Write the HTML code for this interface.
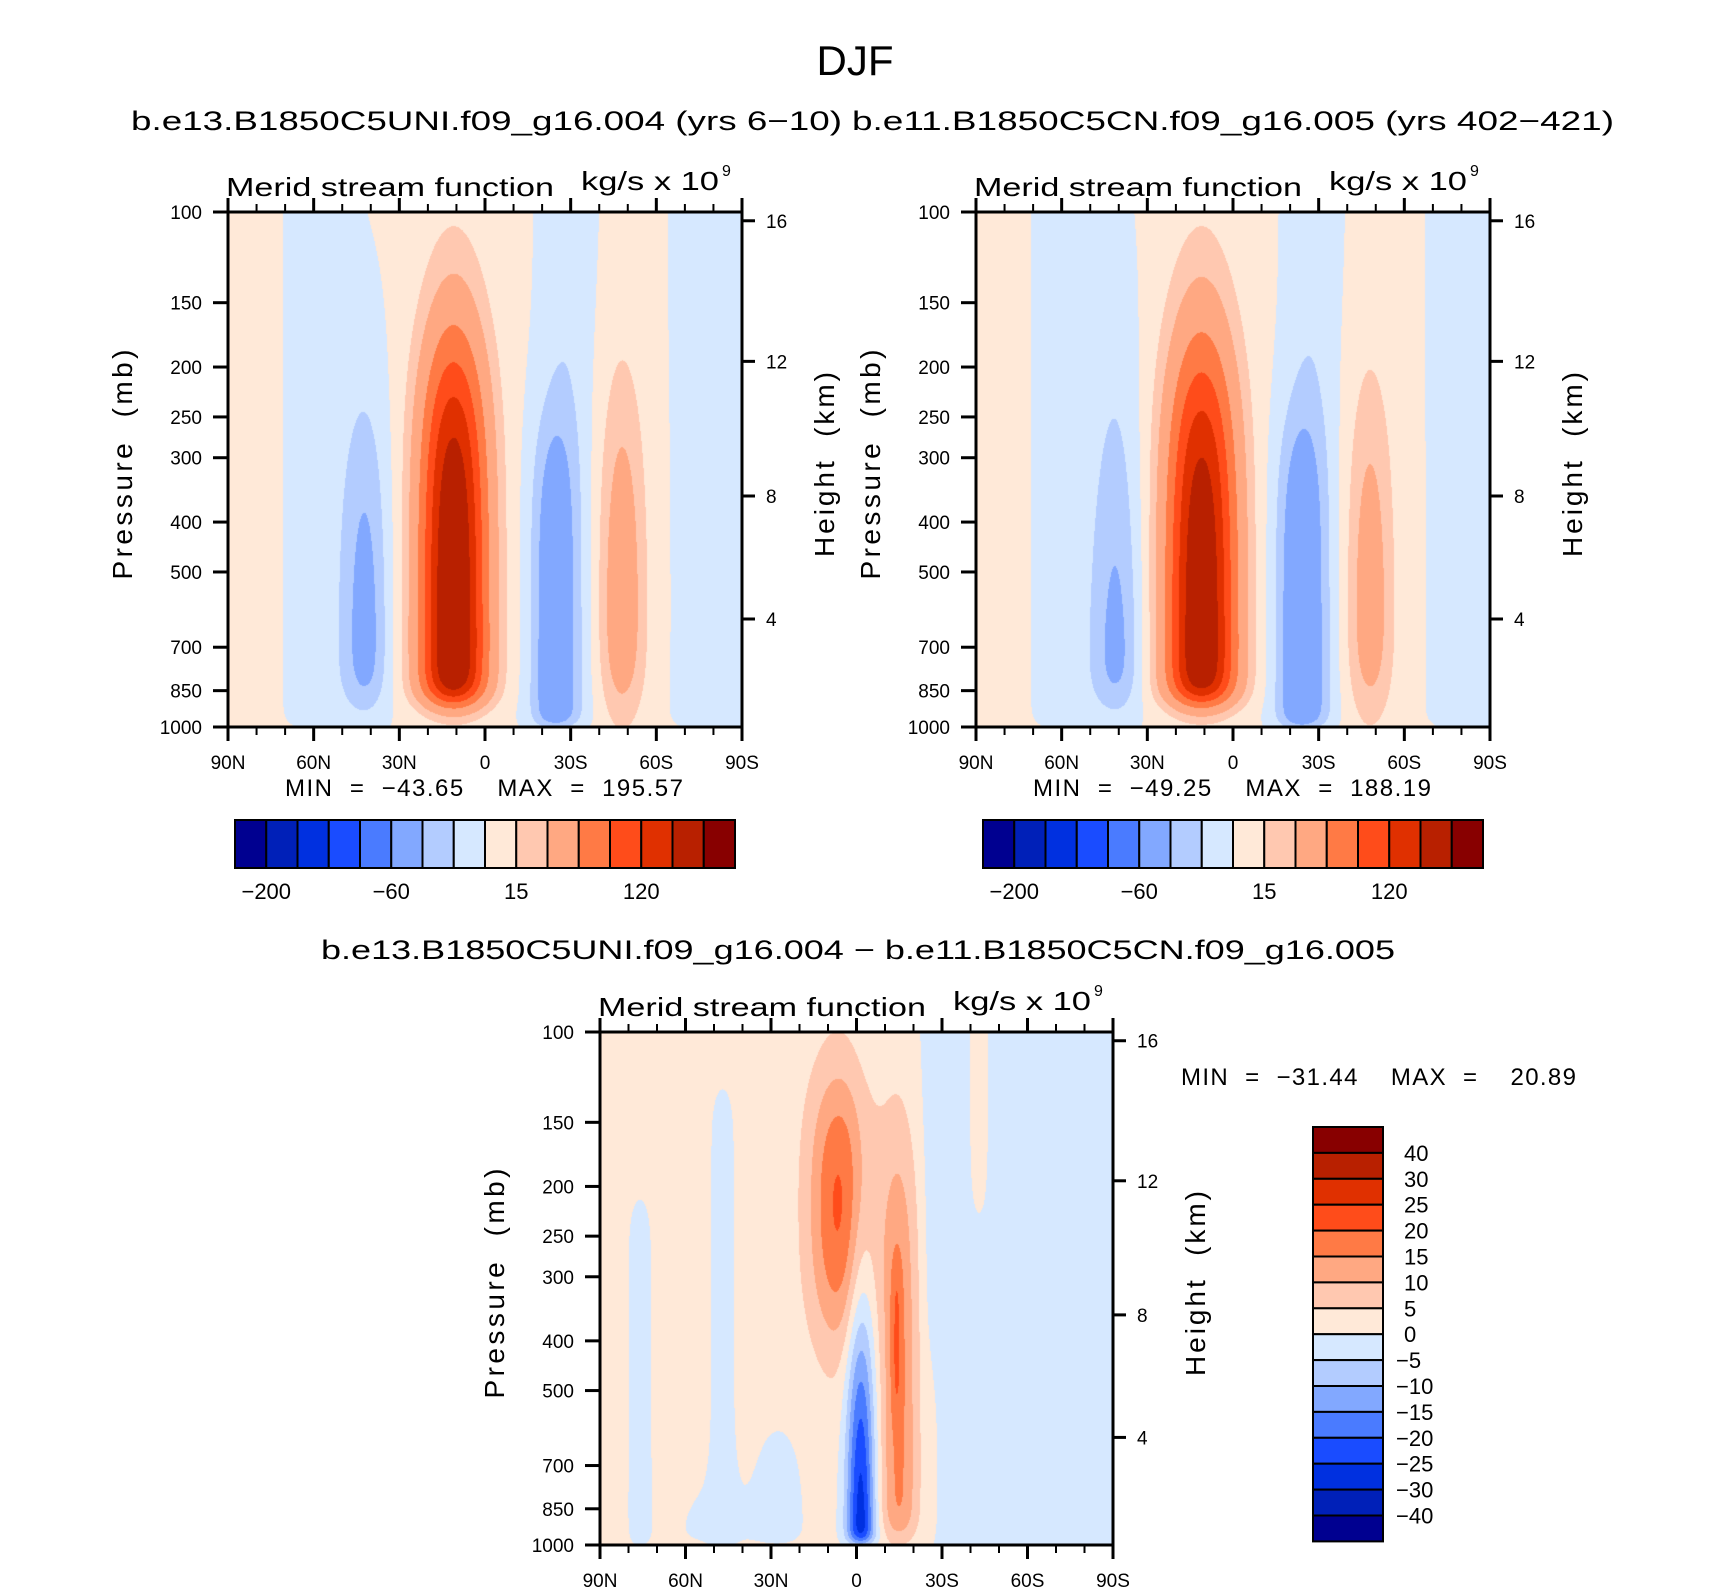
<!DOCTYPE html>
<html><head><meta charset="utf-8">
<style>
html,body{margin:0;padding:0;background:#fff;}
#wrap{position:relative;width:1710px;height:1591px;overflow:hidden;}
canvas{position:absolute;}
svg{position:absolute;left:0;top:0;}
text{font-family:"Liberation Sans",sans-serif;fill:#000;white-space:pre;}
</style></head>
<body>
<div id="wrap">
<canvas id="c1"></canvas>
<canvas id="c2"></canvas>
<canvas id="c3"></canvas>
<svg id="s" width="1710" height="1591"></svg>
</div>
<script>
// ---------- data ----------
const latTicks = [90,60,30,0,-30,-60,-90];
const latTickLabels = ["90N","60N","30N","0","30S","60S","90S"];
const presTicks = [100,150,200,250,300,400,500,700,850,1000];
const heightTickLabels = ["16","12","8","4"];
const heightTickPres = [104,195,356,617];

const levelsAbs = [-200,-150,-120,-90,-60,-30,-15,0,15,30,60,90,120,150,200];
const levelsDiff = [-40,-30,-25,-20,-15,-10,-5,0,5,10,15,20,25,30,40];
const palette = ["#000090","#0020b8","#0030e0","#1a4cff","#4a7bff","#82a8ff","#b3ccff","#d6e8ff",
                 "#ffe9d8","#ffc8b0","#ffa882","#ff7a45","#ff4c1a","#e03000","#b82000","#880000"];
const absBarLabels = ["−200","−60","15","120"];
const absBarLabelIdx = [0,4,8,12];
const diffBarLabels = ["40","30","25","20","15","10","5","0","−5","−10","−15","−20","−25","−30","−40"];

// panel cells: centre latitude, amplitude, lat width, top pressure, top sharpness, bottom pressure, bottom sharpness
const p1Lat  = [11, 42, 58, -29, -24, -48, -80];
const p1Amp  = [194, -44, -10, -12, -45, 50, -12];
const p1W    = [11.5, 8, 10, 9, 8, 8, 12];
const p1Top  = [205, 289, 60, 60, 272, 265, 60];
const p1TopS = [0.108, 0.136, 0.05, 0.05, 0.08, 0.131, 0.05];
const p1Bot  = [889, 896, 990, 990, 990, 893, 990];
const p1BotS = [0.018, 0.031, 0.01, 0.01, 0.01, 0.052, 0.01];
const p1Base = 2;

const p2Lat  = [11, 41, 58, -28, -23.5, -48, -82];
const p2Amp  = [188, -49, -10, -12, -48, 45, -12];
const p2W    = [12, 8.5, 10, 9, 8.5, 8, 11];
const p2Top  = [212, 356, 60, 60, 272, 265, 60];
const p2TopS = [0.115, 0.224, 0.05, 0.05, 0.08, 0.131, 0.05];
const p2Bot  = [889, 896, 990, 990, 995, 893, 990];
const p2BotS = [0.018, 0.03, 0.01, 0.01, 0.01, 0.052, 0.01];
const p2Base = 2;

const p3Lat  = [6, -1.5, -15, -14, 47, 76, 50, 27, -60, -44, -27];
const p3Amp  = [22, -33, 15, 6, -4, -4, -3, -3, -5, 3, -3];
const p3W    = [11, 5, 7, 2, 4, 4, 15, 10, 32, 6, 4];
const p3Top  = [133, 430, 175, 280, 134, 220, 780, 600, 50, 50, 50];
const p3TopS = [0.077, 0.151, 0.113, 0.03, 0.03, 0.03, 0.05, 0.05, 0.05, 0.05, 0.05];
const p3Bot  = [360, 985, 960, 550, 990, 990, 990, 990, 2000, 260, 400];
const p3BotS = [0.08, 0.008, 0.02, 0.03, 0.01, 0.01, 0.01, 0.01, 0.05, 0.05, 0.05];
const p3Base = 1.5;

// ---------- layout ----------
const panels = [
  {x:228,y:212,w:514,h:515,cv:"c1",lat:p1Lat,amp:p1Amp,wd:p1W,top:p1Top,topS:p1TopS,bot:p1Bot,botS:p1BotS,base:p1Base,lev:levelsAbs,name:"case1"},
  {x:976,y:212,w:514,h:515,cv:"c2",lat:p2Lat,amp:p2Amp,wd:p2W,top:p2Top,topS:p2TopS,bot:p2Bot,botS:p2BotS,base:p2Base,lev:levelsAbs,name:"case2"},
  {x:600,y:1032,w:513,h:513,cv:"c3",lat:p3Lat,amp:p3Amp,wd:p3W,top:p3Top,topS:p3TopS,bot:p3Bot,botS:p3BotS,base:p3Base,lev:levelsDiff,name:"diff"}
];
function xScale(P,lat){return P.x + (90-lat)/180*P.w;}
function yScale(P,p){return P.y + (Math.log10(p)-2)*P.h;}
function sig(z){return 1/(1+Math.exp(-z));}
function field(P,lat,p){
  const lp=Math.log10(p); let v=P.base;
  for(let i=0;i<P.lat.length;i++){
    const d=(lat-P.lat[i])/P.wd[i];
    v+=P.amp[i]*Math.exp(-d*d)*sig((lp-Math.log10(P.top[i]))/P.topS[i])*sig((Math.log10(P.bot[i])-lp)/P.botS[i]);
  }
  return v;
}
function colorFor(lev,v){let k=0;while(k<lev.length&&v>=lev[k])k++;return palette[k];}
function hex(c){return [parseInt(c.substr(1,2),16),parseInt(c.substr(3,2),16),parseInt(c.substr(5,2),16)];}

panels.forEach(P=>{
  const cv=document.getElementById(P.cv);
  cv.width=P.w;cv.height=P.h;cv.style.left=P.x+"px";cv.style.top=P.y+"px";
  const ctx=cv.getContext("2d");const img=ctx.createImageData(P.w,P.h);
  for(let j=0;j<P.h;j++){
    const p=Math.pow(10,2+(j+0.5)/P.h);
    for(let i=0;i<P.w;i++){
      const lat=90-(i+0.5)/P.w*180;
      const c=hex(colorFor(P.lev,field(P,lat,p)));
      const o=(j*P.w+i)*4;img.data[o]=c[0];img.data[o+1]=c[1];img.data[o+2]=c[2];img.data[o+3]=255;
    }
  }
  ctx.putImageData(img,0,0);
});

// ---------- svg ----------
const NS="http://www.w3.org/2000/svg";const svg=document.getElementById("s");
function mk(tag,attrs,parent,txt){const e=document.createElementNS(NS,tag);for(const k in attrs)e.setAttribute(k,attrs[k]);if(txt!==undefined)e.textContent=txt;(parent||svg).appendChild(e);return e;}

let t;
t=mk("text",{x:855,y:75,"font-size":42,"text-anchor":"middle"},svg,"DJF");


t=mk("text",{x:131,y:130,"font-size":27,textLength:711,lengthAdjust:"spacingAndGlyphs"},svg,"b.e13.B1850C5UNI.f09_g16.004 (yrs 6−10)");


t=mk("text",{x:852,y:130,"font-size":27,textLength:762,lengthAdjust:"spacingAndGlyphs"},svg,"b.e11.B1850C5CN.f09_g16.005 (yrs 402−421)");


t=mk("text",{x:321,y:959,"font-size":27,textLength:1074,lengthAdjust:"spacingAndGlyphs"},svg,"b.e13.B1850C5UNI.f09_g16.004 − b.e11.B1850C5CN.f09_g16.005");



const minmax=[["MIN  =  −43.65    MAX  =  195.57",285,796,398],["MIN  =  −49.25    MAX  =  188.19",1033,796,398],["MIN  =  −31.44    MAX  =    20.89",1181,1085,395]];

panels.forEach((P,pi)=>{
  const g=mk("g",{});
  
  
  const L=P.x,R=P.x+P.w,T=P.y,B=P.y+P.h;
  mk("rect",{x:L,y:T,width:P.w,height:P.h,fill:"none",stroke:"#000","stroke-width":3},g);
  for(let lat=90;lat>=-90;lat-=10){
    const x=xScale(P,lat);const major=(lat%30===0);const len=major?14:8;
    mk("line",{x1:x,y1:T,x2:x,y2:T-len,stroke:"#000","stroke-width":major?3:2},g);
    mk("line",{x1:x,y1:B,x2:x,y2:B+len,stroke:"#000","stroke-width":major?3:2},g);
  }
  latTicks.forEach((lat,i)=>{
    const tx=mk("text",{x:xScale(P,lat),y:B+42,"font-size":19,"text-anchor":"middle"},g,latTickLabels[i]);
    
    
  });
  presTicks.forEach(p=>{
    const y=yScale(P,p);
    mk("line",{x1:L,y1:y,x2:L-15,y2:y,stroke:"#000","stroke-width":3},g);
    const tx=mk("text",{x:L-26,y:y+7,"font-size":19,"text-anchor":"end"},g,String(p));
    
    
  });
  heightTickPres.forEach((p,i)=>{
    const y=yScale(P,p);
    mk("line",{x1:R,y1:y,x2:R+13,y2:y,stroke:"#000","stroke-width":3},g);
    const tx=mk("text",{x:R+24,y:y+7,"font-size":19},g,heightTickLabels[i]);
    
    
  });
  let a=mk("text",{x:L-2,y:T-16,"font-size":26,textLength:328,lengthAdjust:"spacingAndGlyphs"},g,"Merid stream function");
  
  
  a=mk("text",{x:L+353,y:T-22,"font-size":26,textLength:138,lengthAdjust:"spacingAndGlyphs"},g,"kg/s x 10");
  
  
  mk("text",{x:L+494,y:T-36,"font-size":16},g,"9");
  const cy=T+P.h/2-5;
  a=mk("text",{x:0,y:0,"font-size":28,"text-anchor":"middle",textLength:230,lengthAdjust:"spacing",transform:`translate(${L-96},${cy}) rotate(-90)`},g,"Pressure  (mb)");
  
  
  a=mk("text",{x:0,y:0,"font-size":28,"text-anchor":"middle",textLength:185,lengthAdjust:"spacing",transform:`translate(${R+92},${cy}) rotate(-90)`},g,"Height  (km)");
  
  
  const mm=minmax[pi];
  a=mk("text",{x:mm[1],y:mm[2],"font-size":24,textLength:mm[3],lengthAdjust:"spacing"},g,mm[0]);
  
  
});

[[235,820],[983,820]].forEach((pos,ci)=>{
  const g=mk("g",{});
  
  
  const w=500/16,h=48;
  palette.forEach((c,i)=>{
    const r=mk("rect",{x:pos[0]+i*w,y:pos[1],width:w,height:h,fill:c,stroke:"#000","stroke-width":2},g);
    
    
  });
  absBarLabels.forEach((s,i)=>{
    const x=pos[0]+(absBarLabelIdx[i]+1)*w;
    const tx=mk("text",{x:x,y:pos[1]+h+31,"font-size":22,"text-anchor":"middle"},g,s);
    
    
  });
});
(function(){
  const g=mk("g",{});
  
  
  const x0=1313,y0=1127,w=70,h=25.9;
  for(let i=0;i<16;i++){
    const r=mk("rect",{x:x0,y:y0+i*h,width:w,height:h,fill:palette[15-i],stroke:"#000","stroke-width":2},g);
    
    
  }
  diffBarLabels.forEach((s,i)=>{
    const tx=mk("text",{x:s.startsWith("−")?1396:1404,y:y0+(i+1)*h+8,"font-size":22},g,s);
    
    
  });
})();
</script>
</body></html>
